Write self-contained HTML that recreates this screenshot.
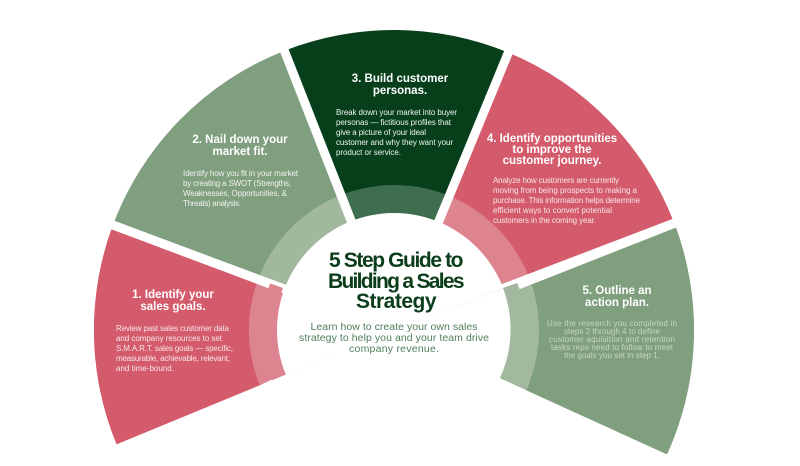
<!DOCTYPE html>
<html><head><meta charset="utf-8"><style>
html,body{margin:0;padding:0;background:#fff;width:800px;height:466px;overflow:hidden}
svg{display:block}
.t{font-family:"Liberation Sans",sans-serif;font-weight:bold;font-size:11.5px;fill:#fff;text-anchor:middle}
.b{font-family:"Liberation Sans",sans-serif;font-size:8px;fill:#f6e6e8}
.g{fill:#eef3ee}
</style></head><body>
<svg width="800" height="466" viewBox="0 0 800 466">
<!-- main wedges -->
<path d="M394 330 L116.6 444.3 A300 300 0 0 1 113.0 224.9 Z" fill="#d45b6c"/>
<path d="M394 330 L113.0 224.9 A300 300 0 0 1 284.5 50.7 Z" fill="#809f7f"/>
<path d="M394 330 L284.5 50.7 A300 300 0 0 1 508.8 52.8 Z" fill="#063f1a"/>
<path d="M394 330 L508.8 52.8 A300 300 0 0 1 674.4 223.5 Z" fill="#d45b6c"/>
<path d="M394 330 L674.4 223.5 A300 300 0 0 1 667.0 454.4 Z" fill="#809f7f"/>
<!-- bands -->
<path d="M394 330 L259.9 385.3 A145 145 0 0 1 258.2 279.2 Z" fill="#dd8491"/>
<path d="M394 330 L258.2 279.2 A145 145 0 0 1 341.1 195.0 Z" fill="#a1b89e"/>
<path d="M394 330 L341.1 195.0 A145 145 0 0 1 449.5 196.0 Z" fill="#3f6e4f"/>
<path d="M394 330 L449.5 196.0 A145 145 0 0 1 529.5 278.5 Z" fill="#dd848f"/>
<path d="M394 330 L529.5 278.5 A145 145 0 0 1 526.0 390.1 Z" fill="#a2b89f"/>
<circle cx="394" cy="330" r="117" fill="#fff"/>
<!-- gaps -->
<g stroke="#fff" stroke-width="9">
<line x1="394" y1="330" x2="94" y2="218"/>
<line x1="394" y1="330" x2="277" y2="32"/>
<line x1="394" y1="330" x2="516" y2="34"/>
<line x1="394" y1="330" x2="693" y2="216"/>
</g>
<rect x="260" y="380" width="270" height="86" fill="#fff"/>
<path d="M394 330 L116.6 444.3 L100 466 L700 466 L667.0 454.4 Z" fill="#fff"/>
<path d="M394 330 L116.6 444.3 A300 300 0 0 1 113.0 224.9 L258.2 279.2 A145 145 0 0 0 259.9 385.3 Z" fill="#d45b6c" stroke="none"/>
<path d="M259.9 385.3 A145 145 0 0 1 258.2 279.2 L283 288 A117 117 0 0 0 285 373 Z" fill="#dd8491"/>
<path d="M394 330 L674.4 223.5 A300 300 0 0 1 667.0 454.4 L526.0 390.1 A145 145 0 0 0 529.5 278.5 Z" fill="#809f7f"/>
<path d="M529.5 278.5 A145 145 0 0 1 526.0 390.1 L500 378 A117 117 0 0 0 503 288 Z" fill="#a2b89f"/>
<g stroke="#fff" stroke-width="9">
<line x1="270" y1="284" x2="94" y2="218"/>
<line x1="518" y1="285" x2="693" y2="216"/>
</g>
<!-- seg1 -->
<text class="t" x="173" y="298">1. Identify your</text>
<text class="t" x="173" y="310">sales goals.</text>
<g class="b">
<text x="116" y="331" textLength="113">Review past sales customer data</text>
<text x="116" y="341" textLength="106">and company resources to set</text>
<text x="116" y="351" textLength="117">S.M.A.R.T. sales goals — specific,</text>
<text x="116" y="361" textLength="114">measurable, achievable, relevant,</text>
<text x="116" y="371" textLength="58">and time-bound.</text>
</g>
<!-- seg2 -->
<text class="t" x="240" y="143">2. Nail down your</text>
<text class="t" x="240" y="155">market fit.</text>
<g class="b g">
<text x="183" y="176" textLength="115">Identify how you fit in your market</text>
<text x="183" y="186" textLength="108">by creating a SWOT (Strengths,</text>
<text x="183" y="196" textLength="104">Weaknesses, Opportunities, &amp;</text>
<text x="183" y="206" textLength="58">Threats) analysis.</text>
</g>
<!-- seg3 -->
<text class="t" x="400" y="82">3. Build customer</text>
<text class="t" x="400" y="94">personas.</text>
<g class="b g">
<text x="336" y="115" textLength="121">Break down your market into buyer</text>
<text x="336" y="125" textLength="115">personas — fictitious profiles that</text>
<text x="336" y="135" textLength="90">give a picture of your ideal</text>
<text x="336" y="145" textLength="117">customer and why they want your</text>
<text x="336" y="155" textLength="65">product or service.</text>
</g>
<!-- seg4 -->
<text class="t" x="552" y="142">4. Identify opportunities</text>
<text class="t" x="552" y="153">to improve the</text>
<text class="t" x="552" y="164">customer journey.</text>
<g class="b">
<text x="493" y="183" textLength="126">Analyze how customers are currently</text>
<text x="493" y="193" textLength="144">moving from being prospects to making a</text>
<text x="493" y="203" textLength="147">purchase. This information helps determine</text>
<text x="493" y="213" textLength="119">efficient ways to convert potential</text>
<text x="493" y="223" textLength="103">customers in the coming year.</text>
</g>
<!-- seg5 -->
<text class="t" x="617" y="294">5. Outline an</text>
<text class="t" x="617" y="306">action plan.</text>
<g class="b" style="fill:#c7d6c5;text-anchor:middle">
<text x="612" y="326" textLength="130">Use the research you completed in</text>
<text x="612" y="334" textLength="96">steps 2 through 4 to define</text>
<text x="612" y="342" textLength="126">customer aquisition and retention</text>
<text x="612" y="350" textLength="122">tasks reps need to follow to meet</text>
<text x="612" y="358" textLength="96">the goals you set in step 1.</text>
</g>
<!-- center -->
<g style="font-family:'Liberation Sans',sans-serif;font-weight:bold;font-size:21px;fill:#0b3d1b;text-anchor:middle;letter-spacing:-0.5px">
<text x="396" y="267" textLength="134">5 Step Guide to</text>
<text x="396" y="288" textLength="136">Building a Sales</text>
<text x="396" y="308">Strategy</text>
</g>
<g style="font-family:'Liberation Sans',sans-serif;font-size:10.5px;fill:#4f7f5c;text-anchor:middle">
<text x="394" y="330" textLength="167">Learn how to create your own sales</text>
<text x="394" y="341" textLength="190">strategy to help you and your team drive</text>
<text x="394" y="352" textLength="90">company revenue.</text>
</g>
</svg>
</body></html>
